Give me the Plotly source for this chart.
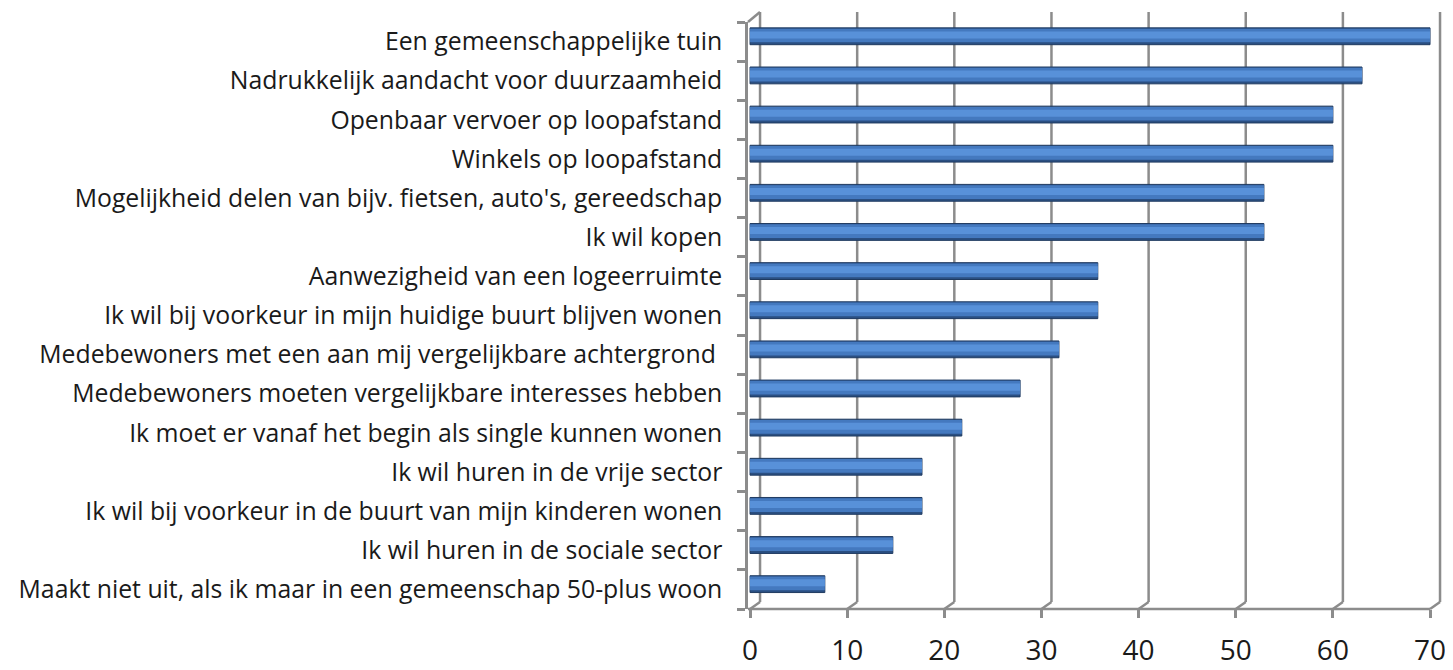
#!/usr/bin/env python3

"""
woonwensen -- horizontal bar chart (Excel 3D-bar look)
"""

import plotly.graph_objects as go

# categories, top to bottom as in the chart
labels = [
    "Een gemeenschappelijke tuin",
    "Nadrukkelijk aandacht voor duurzaamheid",
    "Openbaar vervoer op loopafstand",
    "Winkels op loopafstand",
    "Mogelijkheid delen van bijv. fietsen, auto's, gereedschap",
    "Ik wil kopen",
    "Aanwezigheid van een logeerruimte",
    "Ik wil bij voorkeur in mijn huidige buurt blijven wonen",
    "Medebewoners met een aan mij vergelijkbare achtergrond ",
    "Medebewoners moeten vergelijkbare interesses hebben",
    "Ik moet er vanaf het begin als single kunnen wonen",
    "Ik wil huren in de vrije sector",
    "Ik wil bij voorkeur in de buurt van mijn kinderen wonen",
    "Ik wil huren in de sociale sector",
    "Maakt niet uit, als ik maar in een gemeenschap 50-plus woon",
]
values = [70.0, 63.0, 60.0, 60.0, 52.9, 52.9, 35.8, 35.8, 31.8, 27.8, 21.8, 17.7, 17.7, 14.7, 7.7]

x_ticks = [0, 10, 20, 30, 40, 50, 60, 70]

COL_DARK = "#2A4F82"  # lower edge of the bar
COL_BAR = "#4479BF"  # body
COL_LIGHT = "#5891D9"  # highlight band
COL_GRID = "#8C8C8C"
FONT = "Open Sans, Noto Sans, sans-serif"

# 3D depth of the back wall, in pixels
DEPTH_X = 10
DEPTH_Y = 7
WALL_H = 597  # floor to top of the back gridlines

fig = go.Figure()

# three stacked-in-place layers give the cylinder shading; bars sit a bit
# above the row centre, as in the 3D original
bar_layers = [
    (COL_DARK, 0.43, -0.08, dict(color="#1F3A60", width=1)),
    (COL_BAR, 0.35, -0.02, dict(width=0)),
    (COL_LIGHT, 0.18, 0.08, dict(width=0)),
]
for i, (color, width, offset, edge) in enumerate(bar_layers):
    fig.add_trace(
        go.Bar(
            x=values,
            y=labels,
            orientation="h",
            width=width,
            offset=offset,
            marker=dict(color=color, line=edge),
            hoverinfo="x+y" if i == 0 else "skip",
        )
    )

# back-wall gridlines: shifted right/up from each floor tick, joined by a
# short diagonal (Excel 3D wall)
for t in x_ticks:
    line = dict(color=COL_GRID, width=2.5)
    fig.add_shape(
        type="line", xref="x", yref="paper", layer="below",
        xsizemode="pixel", xanchor=t, x0=DEPTH_X, x1=DEPTH_X,
        ysizemode="pixel", yanchor=0, y0=DEPTH_Y, y1=WALL_H,
        line=line,
    )
    fig.add_shape(
        type="line", xref="x", yref="paper", layer="below",
        xsizemode="pixel", xanchor=t, x0=0, x1=DEPTH_X,
        ysizemode="pixel", yanchor=0, y0=0, y1=DEPTH_Y,
        line=line,
    )
# floor line and the top-left corner of the side wall
fig.add_shape(
    type="line", xref="x", yref="paper", layer="below",
    x0=-0.25, x1=x_ticks[-1], y0=0, y1=0,
    line=dict(color=COL_GRID, width=2.5),
)
fig.add_shape(
    type="line", xref="paper", yref="paper", layer="below",
    xsizemode="pixel", xanchor=0, x0=0, x1=DEPTH_X + 2,
    ysizemode="pixel", yanchor=1, y0=0, y1=DEPTH_Y + 3,
    line=dict(color=COL_GRID, width=2.5),
)

fig.update_xaxes(
    range=[-0.21, 71.85],
    tickvals=x_ticks,
    ticktext=[str(t) for t in x_ticks],
    showgrid=False,
    zeroline=False,
    showline=False,
    ticks="outside",
    ticklen=8,
    tickwidth=2.5,
    tickcolor=COL_GRID,
    ticklabelstandoff=8,
    tickfont=dict(size=28, color="#1a1a1a", family=FONT),
)
fig.update_yaxes(
    categoryorder="array",
    categoryarray=labels[::-1],
    tickson="boundaries",
    ticks="outside",
    ticklen=8,
    tickwidth=2.5,
    tickcolor=COL_GRID,
    showline=True,
    linecolor=COL_GRID,
    linewidth=2.5,
    showgrid=False,
    ticklabelstandoff=18,
    tickfont=dict(size=24.8, color="#1a1a1a", family=FONT),
)
fig.update_layout(
    barmode="overlay",
    showlegend=False,
    plot_bgcolor="white",
    paper_bgcolor="white",
    width=1445,
    height=662,
    margin=dict(l=740, r=5, t=14, b=61, autoexpand=False),
    font=dict(family=FONT, color="#1a1a1a"),
)
fig.write_html("out.html")
